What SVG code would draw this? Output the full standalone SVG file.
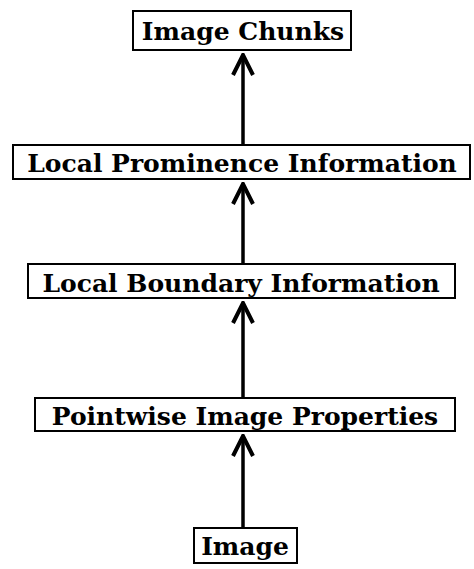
<svg xmlns="http://www.w3.org/2000/svg" width="474" height="569" viewBox="0 0 474 569">
<defs>
<style>
.box{fill:#fff;stroke:#000;stroke-width:2}
.lbl{font-family:"DejaVu Serif","Liberation Serif",serif;font-weight:bold;font-size:25px;fill:#000;text-anchor:middle}
.edge{stroke:#000;stroke-width:3.5;fill:none}
</style>
<marker id="ah" viewBox="-24 -14 26 28" refX="0" refY="0" markerWidth="26" markerHeight="28" markerUnits="userSpaceOnUse" orient="auto">
<path d="M-20 -10 L0 0 L-20 10" fill="none" stroke="#000" stroke-width="4" stroke-linejoin="miter"/>
</marker>
</defs>
<rect width="474" height="569" fill="#fff"/>
<g id="connectors">
<line class="edge" x1="243" y1="145" x2="243" y2="55" marker-end="url(#ah)"/>
<line class="edge" x1="243" y1="264" x2="243" y2="184" marker-end="url(#ah)"/>
<line class="edge" x1="243" y1="398" x2="243" y2="303" marker-end="url(#ah)"/>
<line class="edge" x1="243" y1="528" x2="243" y2="436" marker-end="url(#ah)"/>
</g>
<g id="image-chunks">
<rect class="box" x="133" y="11" width="218" height="39"/>
<text class="lbl" x="243" y="40">Image Chunks</text>
</g>
<g id="local-prominence">
<rect class="box" x="13" y="145" width="457" height="34"/>
<text class="lbl" x="242" y="172">Local Prominence Information</text>
</g>
<g id="local-boundary">
<rect class="box" x="28" y="264" width="427" height="34"/>
<text class="lbl" x="241" y="292">Local Boundary Information</text>
</g>
<g id="pointwise">
<rect class="box" x="35" y="398" width="420" height="33"/>
<text class="lbl" x="245" y="425">Pointwise Image Properties</text>
</g>
<g id="image">
<rect class="box" x="194" y="528" width="103" height="35"/>
<text class="lbl" x="245" y="555">Image</text>
</g>
</svg>
